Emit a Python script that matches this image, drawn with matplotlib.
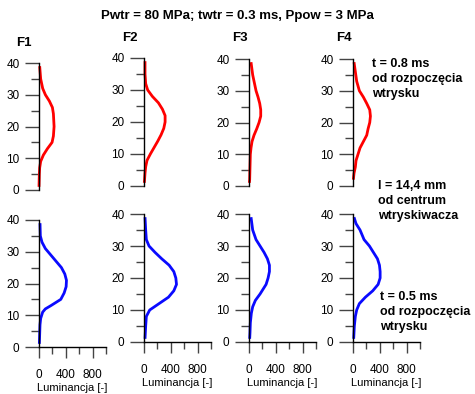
import matplotlib
matplotlib.use('Agg')
import matplotlib.pyplot as plt
from matplotlib.ticker import MultipleLocator, FixedLocator

plt.rcParams['font.family'] = ['Liberation Sans', 'DejaVu Sans']

# odleglosc [mm] i luminancja [-] dla kazdego przekroju
# t = 0.8 ms (gora, czerwone)
y_f1_08 = [1, 5, 7, 9, 11, 13, 15, 17, 20, 24, 26, 28, 30, 32, 35, 39]
l_f1_08 = [0, 5, 10, 25, 65, 125, 195, 215, 225, 215, 200, 155, 95, 55, 25, 10]

y_f2_08 = [1, 4, 6, 8, 10, 12, 14, 16, 18, 20, 22, 24, 26, 28, 30, 32, 35, 39]
l_f2_08 = [5, 15, 25, 45, 95, 150, 205, 255, 295, 315, 315, 275, 215, 125, 55, 25, 15, 15]

y_f3_08 = [1, 2, 6, 10, 12, 14, 16, 18, 20, 22, 24, 26, 28, 30, 32, 35, 39]
l_f3_08 = [5, 10, 15, 20, 30, 45, 75, 115, 150, 175, 175, 160, 135, 105, 85, 55, 30]

y_f4_08 = [2, 4, 6, 8, 10, 12, 14, 16, 18, 20, 22, 24, 26, 28, 30, 33, 36, 39]
l_f4_08 = [5, 15, 35, 45, 75, 105, 155, 205, 225, 250, 260, 250, 205, 155, 95, 55, 35, 15]

# t = 0.5 ms (dol, niebieskie)
y_f1_05 = [1, 4, 7, 9, 11, 12, 13, 15, 17, 19, 21, 23, 25, 27, 29, 31, 33, 35, 39]
l_f1_05 = [5, 10, 15, 25, 55, 95, 175, 325, 375, 405, 410, 385, 335, 255, 175, 95, 45, 20, 15]

y_f2_05 = [1, 5, 8, 10, 12, 14, 16, 18, 20, 22, 24, 26, 28, 30, 32, 35, 39]
l_f2_05 = [15, 25, 35, 85, 225, 365, 445, 485, 475, 445, 375, 265, 165, 75, 35, 25, 15]

y_f3_05 = [1, 3, 6, 9, 11, 13, 15, 17, 18, 20, 22, 24, 26, 28, 30, 32, 35, 39]
l_f3_05 = [10, 15, 20, 35, 55, 95, 165, 225, 255, 285, 305, 305, 275, 225, 165, 105, 55, 30]

y_f4_05 = [1, 5, 8, 10, 12, 14, 16, 18, 20, 22, 24, 26, 28, 30, 32, 33, 34, 35, 37, 39]
l_f4_05 = [10, 20, 35, 55, 95, 185, 295, 375, 405, 405, 395, 365, 305, 245, 165, 145, 125, 105, 45, 15]

panel_names = ['F1', 'F2', 'F3', 'F4']
top_curves = [(y_f1_08, l_f1_08), (y_f2_08, l_f2_08), (y_f3_08, l_f3_08), (y_f4_08, l_f4_08)]
bottom_curves = [(y_f1_05, l_f1_05), (y_f2_05, l_f2_05), (y_f3_05, l_f3_05), (y_f4_05, l_f4_05)]

W, H = 475, 394
fig = plt.figure(figsize=(W / 100, H / 100), dpi=100)

# polozenia osi w pikselach: lewa krawedz, gora (y=40), dol (y=0)
top_boxes = [(39, 63, 190), (144, 58, 186), (249, 59, 186), (353, 59, 186)]
bottom_boxes = [(39, 220, 347), (144, 214, 342), (249, 214, 342), (353, 214, 342)]
AX_W = 67


def make_axes(box, with_x):
    x0, ytop, ybot = box
    ax = fig.add_axes([x0 / W, 1 - ybot / H, AX_W / W, (ybot - ytop) / H])
    ax.set_facecolor('none')
    ax.set_xlim(0, 1000)
    ax.set_ylim(0, 40)
    for s in ['top', 'right']:
        ax.spines[s].set_visible(False)
    ax.spines['left'].set_color('black')
    ax.spines['left'].set_linewidth(1.0)
    ax.yaxis.set_major_locator(MultipleLocator(10))
    ax.yaxis.set_minor_locator(MultipleLocator(5))
    ax.tick_params(axis='y', which='major', length=10, width=1, color='#444444',
                   labelsize=8.5, pad=4)
    ax.tick_params(axis='y', which='minor', length=6, width=1, color='#444444')
    if with_x:
        ax.spines['bottom'].set_color('black')
        ax.spines['bottom'].set_linewidth(1.0)
        ax.xaxis.set_major_locator(FixedLocator([0, 400, 800]))
        ax.xaxis.set_minor_locator(FixedLocator([200, 600, 1000]))
        ax.tick_params(axis='x', which='major', length=8, width=1, color='#444444',
                       labelsize=8.5, pad=8)
        ax.tick_params(axis='x', which='minor', length=5, width=1, color='#444444')
        ax.set_xlabel('Luminancja [-]', fontsize=8, labelpad=1)
    else:
        ax.spines['bottom'].set_visible(False)
        ax.set_xticks([])
    return ax


for name, box, (yy, ll) in zip(panel_names, top_boxes, top_curves):
    ax = make_axes(box, False)
    ax.plot(ll, yy, color='#ff0000', lw=2, solid_capstyle='butt', clip_on=False)

for box, (yy, ll) in zip(bottom_boxes, bottom_curves):
    ax = make_axes(box, True)
    ax.plot(ll, yy, color='#0a0aff', lw=2, solid_capstyle='butt', clip_on=False)

# tytul i nazwy przekrojow
fig.text(237 / W, 1 - 16 / H, 'Pwtr = 80 MPa; twtr = 0.3 ms, Ppow = 3 MPa',
         ha='center', va='center', fontsize=9.5, fontweight='bold')
for name, (x, y) in zip(panel_names, [(24, 43), (130, 38), (240, 38), (344, 38)]):
    fig.text(x / W, 1 - y / H, name, ha='center', va='center', fontsize=9.5, fontweight='bold')

fig.text(372 / W, 1 - 79 / H, 't = 0.8 ms\nod rozpoczęcia\nwtrysku',
         ha='left', va='center', fontsize=9, fontweight='bold', linespacing=1.3)
fig.text(378 / W, 1 - 201 / H, 'l = 14,4 mm\nod centrum\nwtryskiwacza',
         ha='left', va='center', fontsize=9, fontweight='bold', linespacing=1.3)
fig.text(380 / W, 1 - 312 / H, 't = 0.5 ms\nod rozpoczęcia\nwtrysku',
         ha='left', va='center', fontsize=9, fontweight='bold', linespacing=1.3)

fig.savefig('out.png', dpi=100)
